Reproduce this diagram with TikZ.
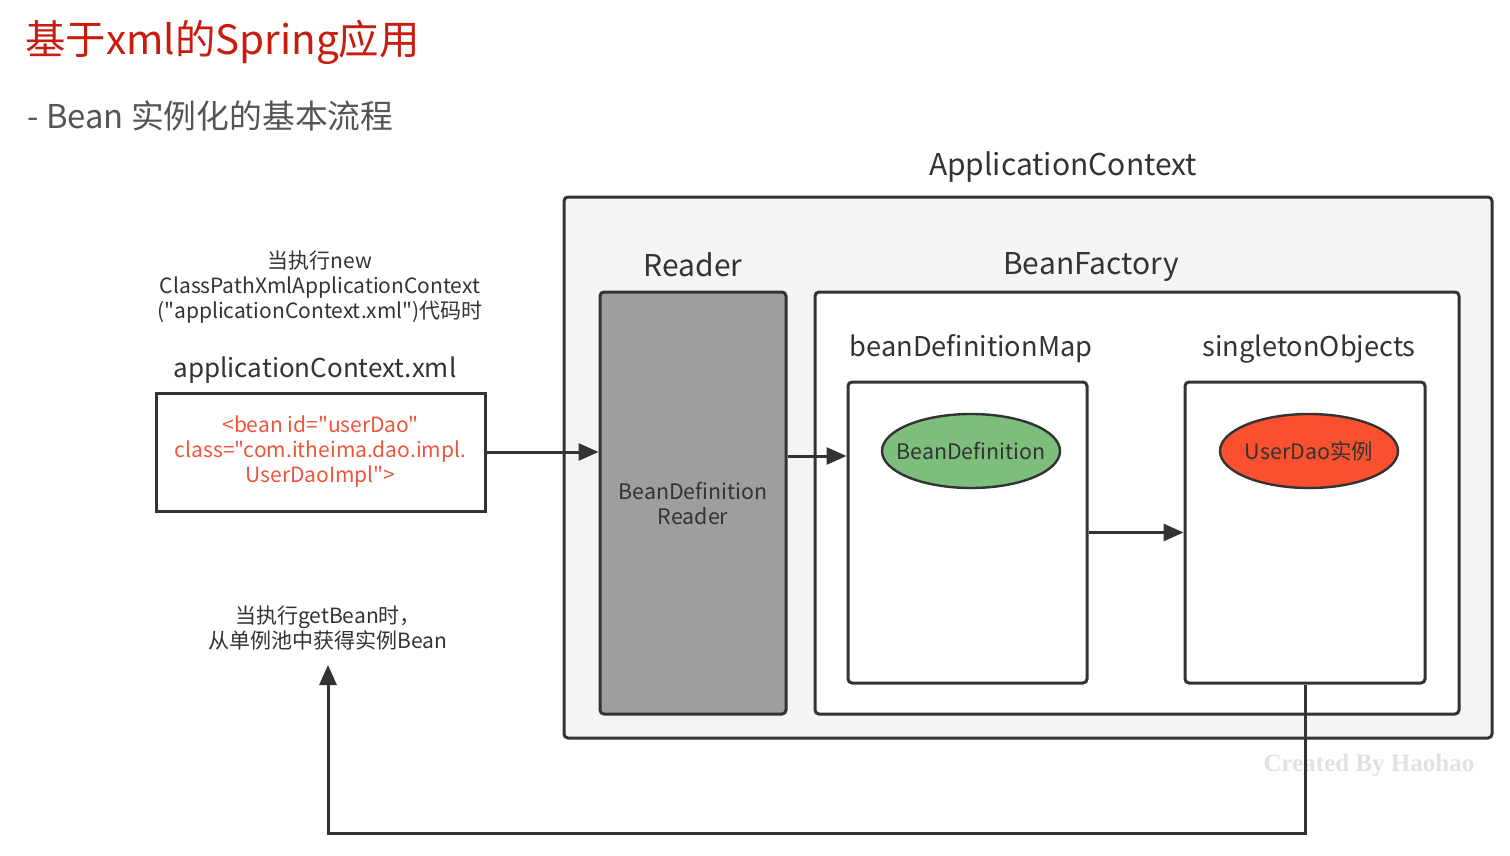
\documentclass[tikz,border=0pt]{standalone}
\usepackage{fontspec}
\newfontfamily\ykfont{Noto Sans CJK SC}
\newfontfamily\wmfont{Liberation Serif}
\usepackage{xcolor}
\usepackage{tikz}
\usetikzlibrary{shapes.geometric, arrows.meta, positioning}

\definecolor{titlered}{RGB}{200,28,15}
\definecolor{subgray}{RGB}{85,85,85}
\definecolor{linecol}{RGB}{51,51,51}
\definecolor{acfill}{RGB}{245,245,245}
\definecolor{readerfill}{RGB}{158,158,158}
\definecolor{bdgreen}{RGB}{125,190,125}
\definecolor{udred}{RGB}{250,80,45}
\definecolor{xmlred}{RGB}{240,85,60}
\definecolor{wmgray}{RGB}{225,225,225}

\begin{document}
\ykfont
\begin{tikzpicture}[
    x=0.5pt, y=-0.5pt,
    box/.style={draw=linecol, line width=1.5pt, rectangle, rounded corners=2pt, inner sep=0pt},
    oval/.style={draw=linecol, line width=1.2pt, ellipse, inner sep=0pt, minimum width=89pt, minimum height=37pt},
    ovaltxt/.style={text=linecol, font=\fontsize{10.7}{12}\selectfont},
    hdr/.style={text=linecol, font=\fontsize{15}{17}\selectfont},
    lbl/.style={text=linecol, font=\fontsize{13.6}{16}\selectfont},
    note/.style={text=linecol, align=center, font=\fontsize{10.5}{12.5}\selectfont},
    arrow/.style={draw=linecol, line width=1.5pt, -{Triangle[length=10pt, width=8.5pt]}}
]
    \useasboundingbox (0,0) rectangle (1510,856);

    % Titles
    \node[anchor=west, text=titlered, font=\fontsize{20.2}{24}\selectfont, inner sep=0pt] (title) at (25,42) {基于xml的Spring应用};
    \node[anchor=west, text=subgray, font=\fontsize{16.4}{20}\selectfont, inner sep=0pt] (subtitle) at (27,116) {- Bean 实例化的基本流程};

    % ApplicationContext
    \node[box, fill=acfill, minimum width=464pt, minimum height=270.5pt] (ac) at (1028,467.5) {};
    \node[hdr] (aclbl) at (1063,167) {ApplicationContext};

    % Reader
    \node[box, fill=readerfill, minimum width=93pt, minimum height=211pt, note, font=\fontsize{10.7}{12.5}\selectfont] (reader) at (693,503) {BeanDefinition\\Reader};
    \node[hdr] (readerlbl) at (693,265) {Reader};

    % BeanFactory
    \node[box, fill=white, minimum width=322pt, minimum height=211pt] (bf) at (1137,503) {};
    \node[hdr] (bflbl) at (1091,267) {BeanFactory};

    % beanDefinitionMap and singletonObjects
    \node[box, fill=white, minimum width=119.5pt, minimum height=150.5pt] (bdm) at (967.5,532.5) {};
    \node[lbl] (bdmlbl) at (971,349) {beanDefinitionMap};
    \node[box, fill=white, minimum width=120pt, minimum height=150.5pt] (so) at (1305,532.5) {};
    \node[lbl] (solbl) at (1309,349) {singletonObjects};

    \node[oval, fill=bdgreen, label={[ovaltxt]center:BeanDefinition}] (bdef) at (971,451) {};
    \node[oval, fill=udred, label={[ovaltxt]center:UserDao实例}] (udobj) at (1309,451) {};

    % xml file
    \node[note] (newtxt) at (320,287) {当执行new\\ClassPathXmlApplicationContext\\("applicationContext.xml")代码时};
    \node[lbl, font=\fontsize{13}{16}\selectfont] (xmllbl) at (315,370) {applicationContext.xml};
    \node[box, rounded corners=0pt, fill=white, minimum width=164.5pt, minimum height=59pt, note, text=xmlred] (xml) at (320.5,452) {<bean id="userDao"\\class="com.itheima.dao.impl.\\UserDaoImpl">};

    % getBean
    \node[note] (gettxt) at (328,628) {当执行getBean时，\\从单例池中获得实例Bean};
    \coordinate (ret) at (328,833);
    \coordinate (tip) at (328,665);

    % watermark
    \node[text=wmgray, font=\wmfont\bfseries\fontsize{12.5}{14}\selectfont] (wm) at (1369,766) {Created By Haohao};

    % Connections
    \draw[arrow] (xml.east) -- (xml.east -| reader.west);
    \draw[arrow] (reader.east |- 0,456) -- (bdm.west |- 0,456);
    \draw[arrow] (bdm.east) -- (so.west);
    \draw[arrow] (so.south) |- (ret) -- (tip);
\end{tikzpicture}
\end{document}
